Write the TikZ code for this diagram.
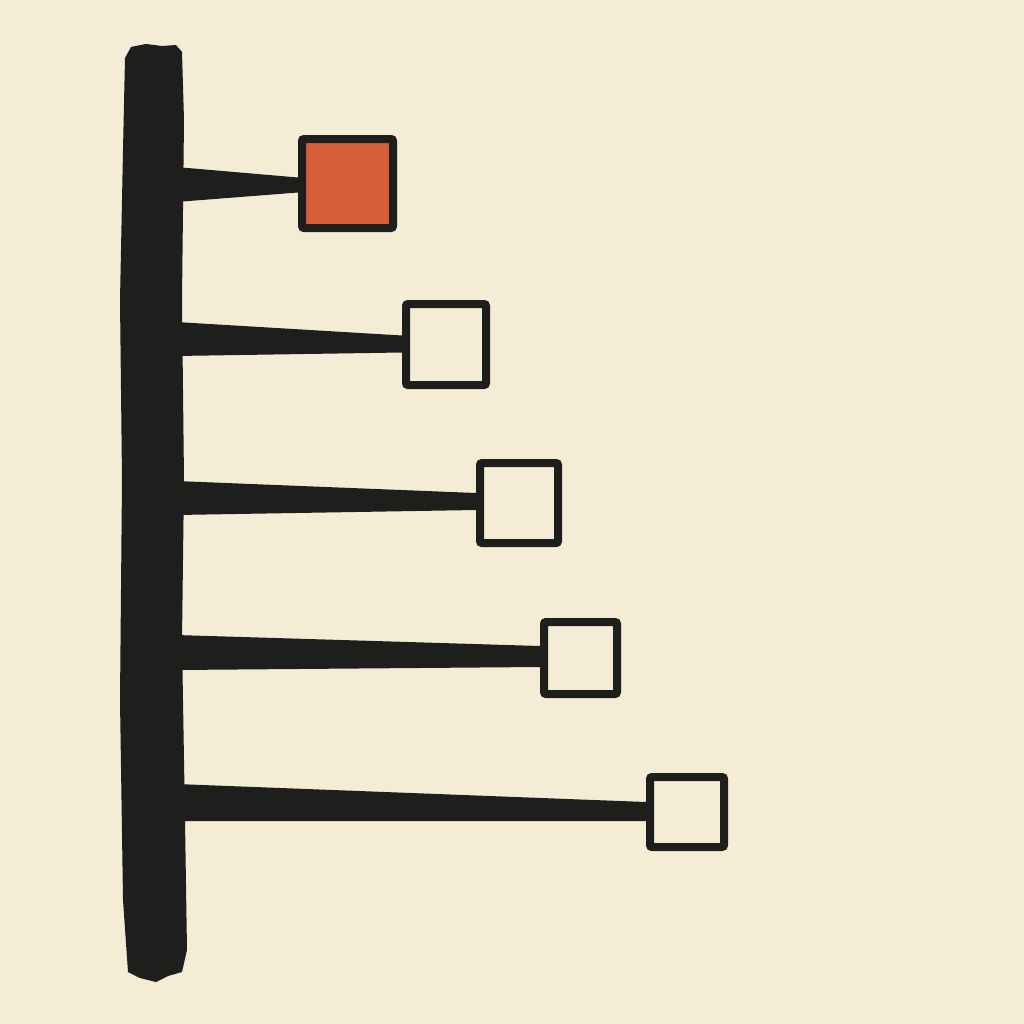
\documentclass[tikz,border=0pt]{standalone}
\usepackage{tikz}
\usetikzlibrary{calc}

\definecolor{paper}{RGB}{244,236,213}
\definecolor{ink}{RGB}{30,30,28}
\definecolor{vermil}{RGB}{214,94,56}

\tikzset{
  box/.style={draw=ink, line width=6pt, rounded corners=1.5pt, inner sep=0pt, fill=paper},
}

\begin{document}
\begin{tikzpicture}[x=0.75pt,y=0.75pt,yscale=-1,xscale=1]
%background paper, fixes the page size
\fill[paper] (0,0) rectangle (1024,1024);

%Trunk [brush stroke]
\fill[ink] (125,58) -- (131,47) -- (146,44) -- (162,46) -- (176,45) -- (182,52) -- (184,120)
  -- (182,300) -- (184,480) -- (182,640) -- (185,820) -- (187,950) -- (182,972) -- (168,976)
  -- (156,982) -- (140,978) -- (128,972) -- (123,900) -- (120,700) -- (122,480) -- (120,300)
  -- (123,150) -- cycle;

%Branch points on the trunk
\coordinate (t1) at (176,184);
\coordinate (t2) at (176,339);
\coordinate (t3) at (176,498);
\coordinate (t4) at (176,652);
\coordinate (t5) at (176,802);

%Boxes
\node[box, fill=vermil, minimum width=68.25pt, minimum height=66.75pt] (b1) at (347.5,183.5) {};
\node[box, minimum width=60pt, minimum height=60.75pt] (b2) at (446,344.5) {};
\node[box, minimum width=58.5pt, minimum height=60pt] (b3) at (519,503) {};
\node[box, minimum width=54.75pt, minimum height=54pt] (b4) at (580.5,658) {};
\node[box, minimum width=55.5pt, minimum height=52.5pt] (b5) at (687,812) {};

%Tapered branches
\fill[ink] ($(t1)+(0,-17)$) -- ($(b1.west)+(0,-6)$) -- ($(b1.west)+(0,9)$) -- ($(t1)+(0,18)$) -- cycle;
\fill[ink] ($(t2)+(0,-17)$) -- ($(b2.west)+(0,-9)$) -- ($(b2.west)+(0,8)$) -- ($(t2)+(0,17)$) -- cycle;
\fill[ink] ($(t3)+(0,-17)$) -- ($(b3.west)+(0,-10)$) -- ($(b3.west)+(0,7)$) -- ($(t3)+(0,17)$) -- cycle;
\fill[ink] ($(t4)+(0,-17)$) -- ($(b4.west)+(0,-12)$) -- ($(b4.west)+(0,9)$) -- ($(t4)+(0,18)$) -- cycle;
\fill[ink] ($(t5)+(0,-18)$) -- ($(b5.west)+(0,-10)$) -- ($(b5.west)+(0,9)$) -- ($(t5)+(0,19)$) -- cycle;

\end{tikzpicture}
\end{document}
